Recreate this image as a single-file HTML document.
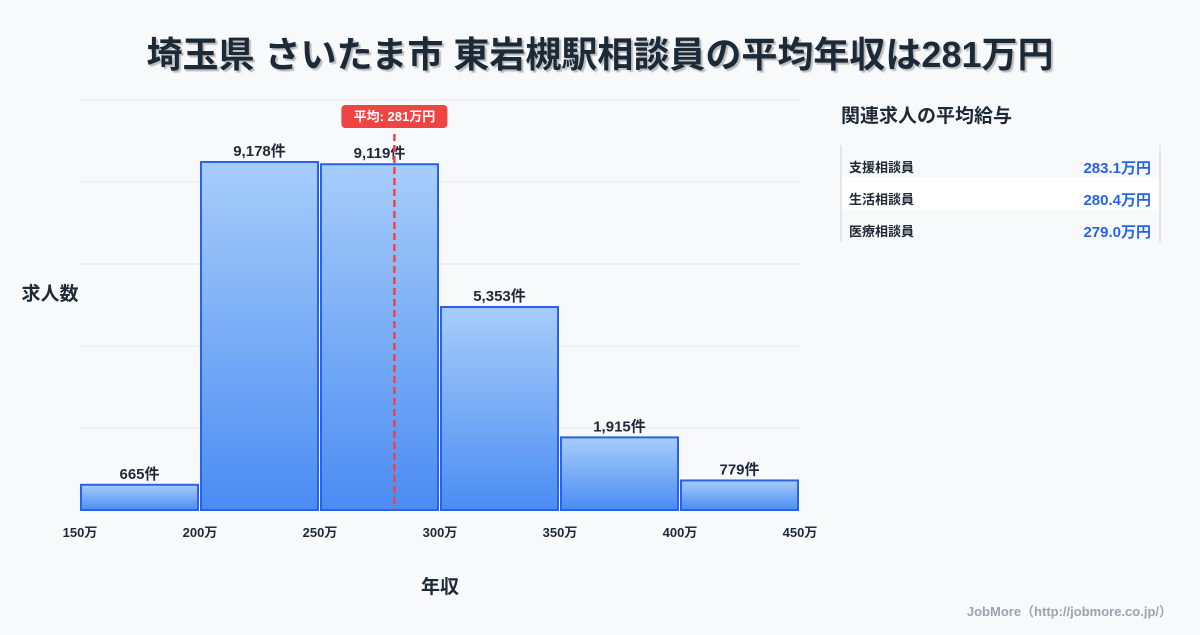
<!DOCTYPE html>
<html><head><meta charset="utf-8">
<style>
html,body{margin:0;padding:0;background:#f8f9fb;}
body{width:1200px;height:630px;overflow:hidden;font-family:"Liberation Sans","Noto Sans CJK JP",sans-serif;}
</style></head>
<body>
<svg id="chart" width="1200" height="630" xmlns="http://www.w3.org/2000/svg" style="font-family:'Liberation Sans','Noto Sans CJK JP',sans-serif">
<defs>
<linearGradient id="bg" x1="0" y1="0" x2="0" y2="1">
<stop offset="0" stop-color="#a7cdfa"/><stop offset="1" stop-color="#4b8cf3"/>
</linearGradient>
<filter id="ts"><feDropShadow dx="2" dy="2" stdDeviation="0.5" flood-color="#000" flood-opacity="0.25"/></filter>
</defs>
<text x="600" y="67" text-anchor="middle" font-size="36" font-weight="bold" fill="#1f2937" filter="url(#ts)">埼玉県 さいたま市 東岩槻駅相談員の平均年収は281万円</text>
<g id="grid"></g>
<g id="bars"></g>
<g id="xticks"></g>
<text x="50" y="300" text-anchor="middle" font-size="19" font-weight="bold" fill="#1f2937">求人数</text>
<text x="440" y="593" text-anchor="middle" font-size="19" font-weight="bold" fill="#1f2937">年収</text>
<g id="mean"></g>
<g>
<text x="841" y="122" font-size="19" font-weight="bold" fill="#1f2937">関連求人の平均給与</text>
<line x1="841" y1="145" x2="841" y2="242" stroke="#cbd5e1" stroke-width="1"/>
<line x1="1160" y1="145" x2="1160" y2="242" stroke="#cbd5e1" stroke-width="1"/>
<rect x="842" y="177" width="317" height="32" fill="#ffffff"/>
<g id="rows"></g>
</g>
<text x="1172" y="616" text-anchor="end" font-size="13" font-weight="bold" fill="#9ca3af">JobMore（http://jobmore.co.jp/）</text>
</svg>
<script>
const binStarts=[150,200,250,300,350,400];
const binWidth=50;
const counts=[665,9178,9119,5353,1915,779];
const countLabels=["665件","9,178件","9,119件","5,353件","1,915件","779件"];
const xTicks=[150,200,250,300,350,400,450];
const meanValue=281;
const jobNames=["支援相談員","生活相談員","医療相談員"];
const jobSalaries=["283.1万円","280.4万円","279.0万円"];

const NS="http://www.w3.org/2000/svg";
const X0=80,X1=800,Y0=510,YT=100,xmin=150,xmax=450,ymax=10813;
const xs=v=>X0+(v-xmin)*(X1-X0)/(xmax-xmin);
const ys=v=>Y0-v*(Y0-YT)/ymax;
function mk(tag,attrs,parent){const e=document.createElementNS(NS,tag);for(const k in attrs)e.setAttribute(k,attrs[k]);parent.appendChild(e);return e;}
const grid=document.getElementById('grid');
for(let i=0;i<=5;i++){const y=YT+i*(Y0-YT)/5;
 const l=mk('line',{x1:X0,x2:X1,y1:y,y2:y,stroke:'#e5e7eb','stroke-width':1},grid);
 
 }
const bars=document.getElementById('bars');
binStarts.forEach((b,i)=>{
 const x=xs(b)+1,w=xs(b+binWidth)-xs(b)-3,y=ys(counts[i]);
 const r=mk('rect',{x:x,y:y,width:w,height:Y0-y,fill:'url(#bg)',stroke:'#2563eb','stroke-width':2},bars);
 
 
 const t=mk('text',{x:x+w/2,y:y-6,'text-anchor':'middle','font-size':15,'font-weight':'bold',fill:'#1f2937'},bars);
 t.textContent=countLabels[i];
 
 
});
const xt=document.getElementById('xticks');
xTicks.forEach(v=>{
 const t=mk('text',{x:xs(v),y:537,'text-anchor':'middle','font-size':13,'font-weight':'bold',fill:'#1f2937'},xt);
 t.textContent=v+'万';
 
 
});
const mg=document.getElementById('mean');
const mx=xs(meanValue);
const ml=mk('line',{x1:mx,x2:mx,y1:134,y2:Y0,stroke:'#ef4444','stroke-width':2.5,'stroke-dasharray':'7,4'},mg);


const mb=mk('rect',{x:mx-53,y:105,width:106,height:23,rx:4,fill:'#ef4444'},mg);


const mt=mk('text',{x:mx,y:121,'text-anchor':'middle','font-size':13,'font-weight':'bold',fill:'#fff'},mg);
mt.textContent='平均: '+meanValue+'万円';


const rows=document.getElementById('rows');
jobNames.forEach((n,i)=>{
 const y=172+i*32;
 const a=mk('text',{x:849,y:y,'font-size':13,'font-weight':'bold',fill:'#1f2937'},rows);
 a.textContent=n;
 
 
 const b=mk('text',{x:1151,y:y+1,'text-anchor':'end','font-size':15,'font-weight':'bold',fill:'#2563eb'},rows);
 b.textContent=jobSalaries[i];
 
 
});
</script>
</body></html>
